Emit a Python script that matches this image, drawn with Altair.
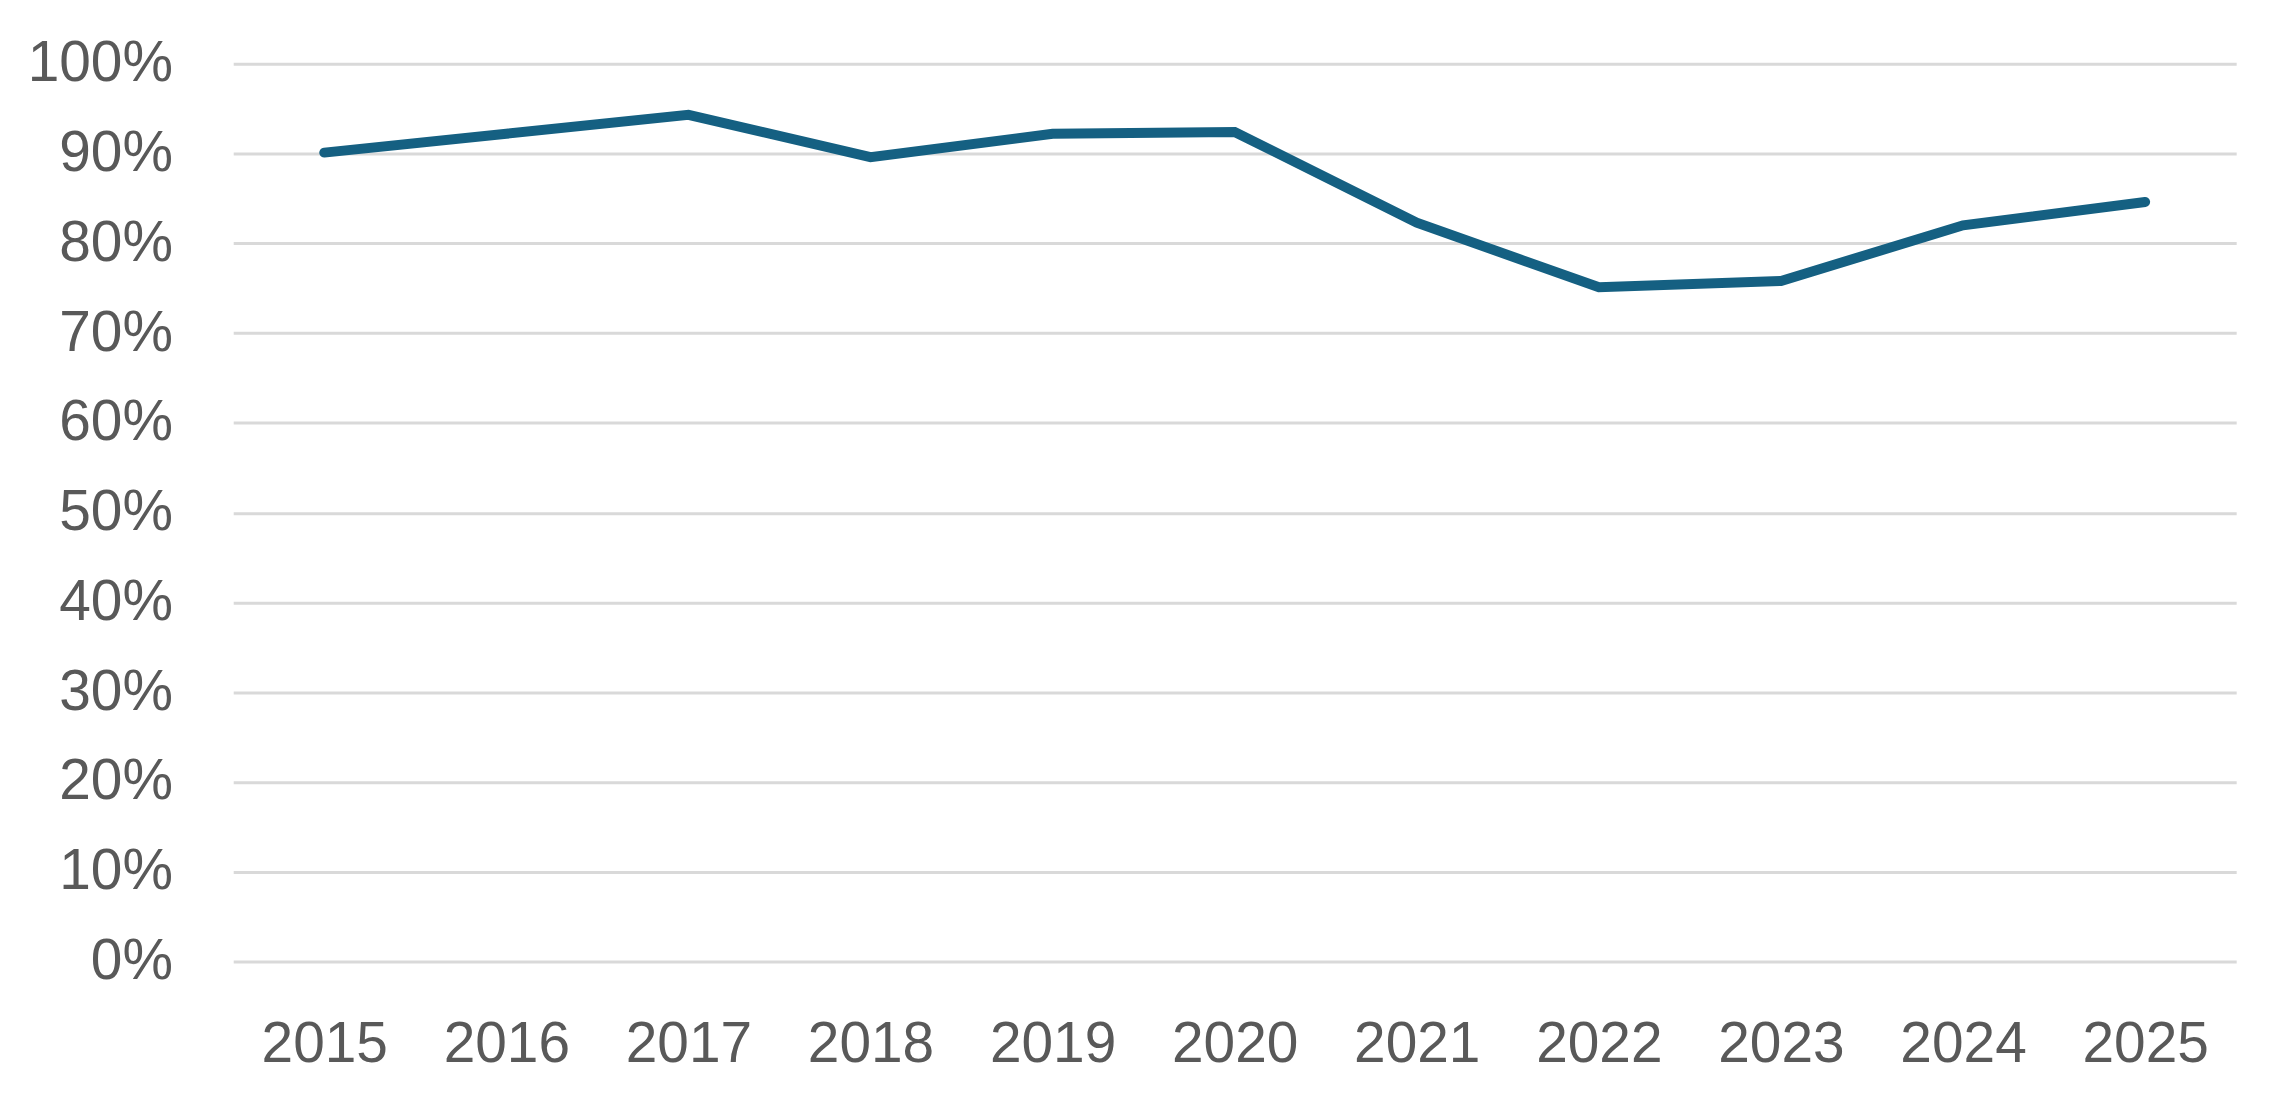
import altair as alt
import pandas as pd

years = ["2015", "2016", "2017", "2018", "2019", "2020", "2021", "2022", "2023", "2024", "2025"]
rates = [0.901, 0.922, 0.943, 0.896, 0.922, 0.924, 0.823, 0.751, 0.758, 0.820, 0.846]
y_ticks = [0, 0.1, 0.2, 0.3, 0.4, 0.5, 0.6, 0.7, 0.8, 0.9, 1.0]

df = pd.DataFrame({"year": years, "rate": rates})

FONT = "Liberation Sans"
TXT = "#595959"

chart = alt.Chart(df).mark_line(
    color="#156082", strokeWidth=10, strokeCap="round", strokeJoin="miter"
).encode(
    x=alt.X("year:O", sort=years, title=None,
            scale=alt.Scale(type="point", padding=0.5),
            axis=alt.Axis(labelAngle=0, ticks=False, domain=False, grid=False,
                          labelFont=FONT, labelFontSize=57, labelColor=TXT,
                          labelPadding=55)),
    y=alt.Y("rate:Q", title=None,
            scale=alt.Scale(domain=[0, 1], nice=False, zero=True),
            axis=alt.Axis(values=y_ticks, format=".0%", ticks=False, domain=False,
                          grid=True, gridColor="#D9D9D9", gridWidth=3,
                          labelFont=FONT, labelFontSize=57, labelColor=TXT,
                          labelPadding=61)),
).properties(
    width=2010,
    height=901,
    autosize=alt.AutoSizeParams(type="none"),
    padding={"left": 226, "top": 54, "right": 51, "bottom": 140},
).configure(
    background="white",
    view=alt.ViewConfig(stroke=None, strokeWidth=0),
)

chart.save("out.html", embed_options={"renderer": "svg", "actions": False})
